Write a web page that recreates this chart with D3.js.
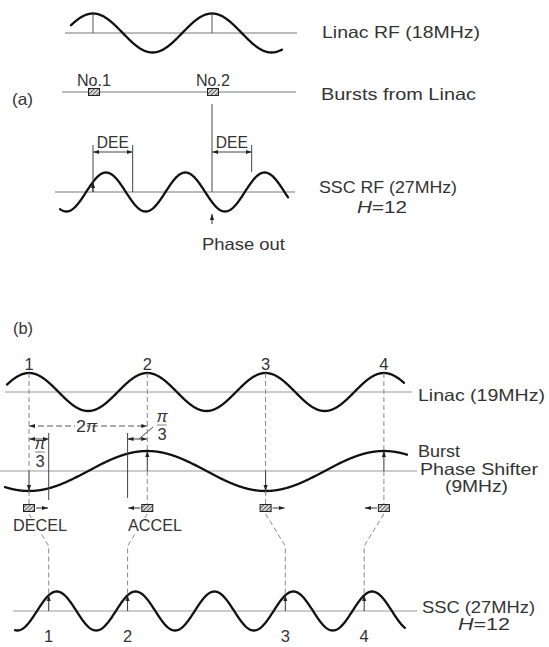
<!DOCTYPE html>
<html>
<head>
<meta charset="utf-8">
<script src="https://cdn.jsdelivr.net/npm/d3@7"></script>
<style>
  body { margin: 0; background: #fff; }
  text { font-family: "Liberation Sans", Arial, sans-serif; fill: #333; font-size: 16.5px; }
</style>
</head>
<body>
<svg id="chart" width="549" height="647"></svg>
<script>
// ---------- Panel (a): Linac bursts and SSC RF (phase in Linac RF periods) ----------
const panelTags = ["(a)", "(b)"];
const waveNamesA = ["Linac RF (18MHz)", "SSC RF (27MHz)"];
const waveFreqA = [1, 1.5];                 // cycles per Linac period
const wavePhaseA = [0, -59];                // degrees
const waveSpanA = [[-0.185, 1.588], [-0.277, 1.639]];
const burstTrackA = "Bursts from Linac";
const burstNamesA = ["No.1", "No.2"];
const burstPhaseA = [0, 1];
const deeStartA = [0, 1];                   // DEE gap opens as each burst arrives
const deeWidthA = 1 / 3;                    // half an SSC period
const harmonicLabel = "H=12";
const phaseOutLabel = "Phase out";

// ---------- Panel (b): phase shifting of the bursts ----------
const waveNamesB = ["Linac (19MHz)", "SSC (27MHz)"];
const shifterLines = ["Burst", "Phase Shifter", "(9MHz)"];
const waveFreqB = [1, 0.5, 1.5];            // Linac, phase shifter, SSC
const wavePhaseB = [0, 180, -126.5];        // degrees
const waveSpanB = [[-0.186, 3.17], [-0.203, 3.195], [-0.118, 3.178]];
const bunchNumbers = ["1", "2", "3", "4"];
const bunchPhaseB = [0, 1, 2, 3];
const shiftSignB = [1, -1, 1, -1];          // +π/3 = later (DECEL), −π/3 = earlier (ACCEL)
const shiftLabelB = ["DECEL", "ACCEL", "", ""];
const shiftPeriods = 1 / 6;                 // π/3 of a Linac period

// ---------- drawing ----------
const svg = d3.select("#chart");
const defs = svg.append("defs");
defs.append("marker").attr("id", "tip")
  .attr("viewBox", "0 0 10 10").attr("refX", 10).attr("refY", 5)
  .attr("markerUnits", "userSpaceOnUse").attr("markerWidth", 6).attr("markerHeight", 6)
  .attr("orient", "auto-start-reverse")
  .append("path").attr("d", "M0,1.5L10,5L0,8.5Z").attr("fill", "#222");
const pat = defs.append("pattern").attr("id", "hatch")
  .attr("patternUnits", "userSpaceOnUse").attr("width", 3).attr("height", 3)
  .attr("patternTransform", "rotate(45)");
pat.append("rect").attr("width", 3).attr("height", 3).attr("fill", "#dcdcdc");
pat.append("line").attr("x1", 0).attr("y1", 0).attr("x2", 0).attr("y2", 3)
  .attr("stroke", "#222").attr("stroke-width", 1.4);

const wave = (f, ph, t) => Math.cos(2 * Math.PI * f * t + ph * Math.PI / 180);

function seg(g, x1, y1, x2, y2, opt = {}) {
  const l = g.append("line").attr("x1", x1).attr("y1", y1).attr("x2", x2).attr("y2", y2)
    .attr("stroke", opt.color || "#333").attr("stroke-width", opt.w || 1);
  if (opt.dash) l.attr("stroke-dasharray", opt.dash);
  if (opt.end) l.attr("marker-end", "url(#tip)");
  if (opt.start) l.attr("marker-start", "url(#tip)");
  return l;
}
function label(g, str, x, y, len, anchor = "start", bg = false, size = null) {
  const t = g.append("text").attr("x", x).attr("y", y).attr("text-anchor", anchor).text(str);
  if (size) t.attr("font-size", size);
  if (len) t.attr("textLength", len).attr("lengthAdjust", "spacingAndGlyphs");
  if (bg) {
    const b = t.node().getBBox();
    g.insert("rect", () => t.node()).attr("x", b.x - 1).attr("y", b.y + 2)
      .attr("width", b.width + 2).attr("height", b.height - 3).attr("fill", "#fff");
  }
  return t;
}
function drawWave(g, x, y, f, ph, span) {
  const ts = d3.range(span[0], span[1], 0.004).concat([span[1]]);
  g.append("path").datum(ts)
    .attr("d", d3.line().x(t => x(t)).y(t => y(wave(f, ph, t))))
    .attr("fill", "none").attr("stroke", "#111").attr("stroke-width", 2.3)
    .attr("stroke-linecap", "round");
}
function burst(g, cx, cy) {
  g.append("rect").attr("x", cx - 5.5).attr("y", cy - 3.5).attr("width", 11).attr("height", 7)
    .attr("fill", "url(#hatch)").attr("stroke", "#222").attr("stroke-width", 1);
}
function harmonic(g, x, y, len) {
  const h = g.append("text").attr("x", x).attr("y", y).attr("textLength", len).attr("lengthAdjust", "spacingAndGlyphs");
  h.append("tspan").attr("font-style", "italic").text(harmonicLabel.slice(0, 1));
  h.append("tspan").text(harmonicLabel.slice(1));
}

// ===== Panel (a) =====
const ga = svg.append("g");
const xA = d3.scaleLinear().domain([0, 1]).range([93, 212]);
const yLinA = d3.scaleLinear().domain([-1, 1]).range([52.5, 13.5]);
const ySscA = d3.scaleLinear().domain([-1, 1]).range([211.5, 172.5]);
const baseLinA = yLinA(0), baseBurstA = 92, baseSscA = ySscA(0);

label(ga, panelTags[0], 12, 105, 21);

// Linac RF
seg(ga, 65, baseLinA, 297, baseLinA, { color: "#777" });
drawWave(ga, xA, yLinA, waveFreqA[0], wavePhaseA[0], waveSpanA[0]);
burstPhaseA.forEach(t => seg(ga, xA(t), yLinA(wave(waveFreqA[0], wavePhaseA[0], t)), xA(t), baseLinA, { color: "#555" }));
label(ga, waveNamesA[0], 322, 38, 158);

// Bursts
seg(ga, 62, baseBurstA, 296, baseBurstA, { color: "#777" });
burstPhaseA.forEach((t, i) => {
  burst(ga, xA(t) + 1, baseBurstA);
  label(ga, burstNamesA[i], xA(t) + 1, 86, 34, "middle");
});
label(ga, burstTrackA, 321, 100, 155);

// SSC RF
seg(ga, xA(1), 104, xA(1), baseSscA, { color: "#444" });
seg(ga, 55, baseSscA, 295, baseSscA, { color: "#777" });
drawWave(ga, xA, ySscA, waveFreqA[1], wavePhaseA[1], waveSpanA[1]);
deeStartA.forEach((s, i) => {
  const x0 = xA(s), x1 = xA(s + deeWidthA);
  const yc1 = ySscA(wave(waveFreqA[1], wavePhaseA[1], s + deeWidthA));
  if (i === 0) seg(ga, x0, 145, x0, baseSscA, { color: "#444" });
  seg(ga, x1, 145, x1, Math.min(baseSscA, yc1 - 10), { color: "#444" });
  seg(ga, x0, 152, x1, 152, { color: "#444", start: true, end: true });
  label(ga, "DEE", (x0 + x1) / 2, 148, 32, "middle");
});
seg(ga, xA(0), baseSscA, xA(0), ySscA(wave(waveFreqA[1], wavePhaseA[1], 0)), { color: "#333", end: true });
seg(ga, xA(1), 224, xA(1), 214, { color: "#333", end: true });
label(ga, phaseOutLabel, 202, 250, 83);
label(ga, waveNamesA[1], 319, 193, 138);
harmonic(ga, 357, 213, 50);

// ===== Panel (b) =====
const gb = svg.append("g");
const xB = d3.scaleLinear().domain([0, 1]).range([29, 147.3]);
const yLinB = d3.scaleLinear().domain([-1, 1]).range([411, 373]);
const yPsB = d3.scaleLinear().domain([-1, 1]).range([491, 451]);
const ySscB = d3.scaleLinear().domain([-1, 1]).range([630.5, 591.5]);
const baseLinB = yLinB(0), basePsB = yPsB(0), baseSscB = ySscB(0);
const burstY = 508;
const dashed = { color: "#8a8a8a", dash: "5,3" };

label(gb, panelTags[1], 13, 334, 20);

// baselines and waves
seg(gb, 5, baseLinB, 412, baseLinB, { color: "#999" });
seg(gb, 0, basePsB, 417, basePsB, { color: "#999" });
seg(gb, 13, baseSscB, 417, baseSscB, { color: "#999" });
drawWave(gb, xB, yLinB, waveFreqB[0], wavePhaseB[0], waveSpanB[0]);
drawWave(gb, xB, yPsB, waveFreqB[1], wavePhaseB[1], waveSpanB[1]);
drawWave(gb, xB, ySscB, waveFreqB[2], wavePhaseB[2], waveSpanB[2]);

// 2π and π/3 dimensions
seg(gb, xB(0), 426, xB(1), 426, { color: "#555", dash: "6,3", start: true, end: true });
label(gb, "2", 76, 432, 10, "start", true);
gb.append("text").attr("x", 86).attr("y", 432).attr("font-style", "italic").text("π");
seg(gb, xB(shiftPeriods), 433, xB(shiftPeriods), 500, { color: "#444" });
seg(gb, xB(1 - shiftPeriods), 433, xB(1 - shiftPeriods), 498, { color: "#444" });
seg(gb, xB(0), 439, xB(shiftPeriods), 439, { color: "#444", start: true, end: true });
seg(gb, xB(1 - shiftPeriods), 439, xB(1), 439, { color: "#444", start: true, end: true });
seg(gb, 139, 439, 153, 427, { color: "#444" });
function piOver3(g, cx, yTop) {
  g.append("text").attr("x", cx).attr("y", yTop + 9).attr("text-anchor", "middle")
    .attr("font-style", "italic").attr("font-size", 12.5).text("π");
  seg(g, cx - 5, yTop + 12, cx + 5, yTop + 12, { color: "#666", w: 0.8 });
  g.append("text").attr("x", cx).attr("y", yTop + 27).attr("text-anchor", "middle").text("3");
}
piOver3(gb, 40, 440);
piOver3(gb, 162, 413);

// Linac peaks projected onto the phase shifter and the bursts
bunchPhaseB.forEach((t, i) => {
  const x = xB(t);
  const yPeak = yLinB(wave(waveFreqB[0], wavePhaseB[0], t));
  const yPs = yPsB(wave(waveFreqB[1], wavePhaseB[1], t));
  label(gb, bunchNumbers[i], x, 370, null, "middle");
  seg(gb, x, yPeak, x, Math.min(basePsB, yPs), dashed);
  seg(gb, x, basePsB, x, yPs, { color: "#333", end: true });
  seg(gb, x, Math.max(basePsB, yPs), x, burstY - 3.5, dashed);
  burst(gb, x, burstY);
  const dir = shiftSignB[i];
  seg(gb, x + dir * 7, burstY, x + dir * 19, burstY, { color: "#333", end: true });

  // shifted burst path down to the SSC
  const tS = t + dir * shiftPeriods, xs = xB(tS);
  const ySsc = ySscB(wave(waveFreqB[2], wavePhaseB[2], tS));
  gb.append("path")
    .attr("d", d3.line()([[x, burstY + 6], [xs, 546], [xs, ySsc]]))
    .attr("fill", "none").attr("stroke", "#8a8a8a").attr("stroke-dasharray", "5,3");
  seg(gb, xs, baseSscB, xs, ySsc, { color: "#333", end: true });
  label(gb, bunchNumbers[i], xs, 642, null, "middle", false, 15);
  if (shiftLabelB[i]) label(gb, shiftLabelB[i], dir > 0 ? 40 : 155, 531, 54, "middle", true);
});

// right-hand labels
label(gb, waveNamesB[0], 418, 401, 127);
label(gb, shifterLines[0], 418, 457, 42, "start", false, 15);
label(gb, shifterLines[1], 420, 475, 118, "start", false, 15);
label(gb, shifterLines[2], 445, 492, 63, "start", false, 14.5);
label(gb, waveNamesB[1], 422, 613, 113);
harmonic(gb, 458, 630, 52);
</script>
</body>
</html>
